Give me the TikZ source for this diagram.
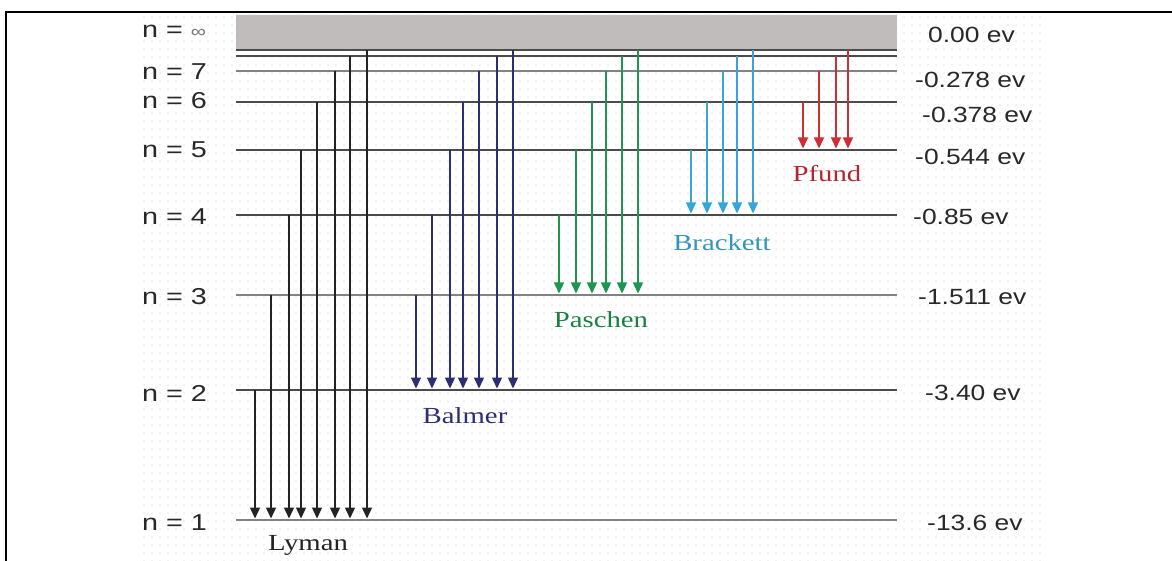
\documentclass[tikz,border=0pt]{standalone}
\usepackage{fontspec}
\usepackage{graphicx}
\setmainfont{Liberation Serif}
\setsansfont{Liberation Sans}
\usetikzlibrary{arrows.meta,patterns.meta}
\definecolor{lvl}{RGB}{75,75,75}
\definecolor{lvllight}{RGB}{130,130,130}
\definecolor{bandc}{RGB}{192,188,188}
\definecolor{lyc}{RGB}{35,35,35}
\definecolor{bac}{RGB}{45,45,115}
\definecolor{pac}{RGB}{30,150,80}
\definecolor{brc}{RGB}{55,165,215}
\definecolor{pfc}{RGB}{210,45,55}
\definecolor{txt}{RGB}{40,40,40}
\tikzset{
  level/.style={draw=lvl,line width=1.5pt},
  levellight/.style={draw=lvllight,line width=1.5pt},
  trans/.style={line width=1.3pt,-{Triangle[width=10pt,length=11pt]},shorten >=1.5pt},
  lyman/.style={trans,draw=lyc,fill=lyc},
  balmer/.style={trans,draw=bac,fill=bac},
  paschen/.style={trans,draw=pac,fill=pac},
  brackett/.style={trans,draw=brc,fill=brc},
  pfund/.style={trans,draw=pfc,fill=pfc},
  nlab/.style={anchor=west,inner sep=0pt,text=txt,font=\fontsize{23}{25}\selectfont\sffamily},
  elab/.style={anchor=west,inner sep=0pt,text=txt,font=\fontsize{22}{24}\selectfont\sffamily},
  series/.style={anchor=base,inner sep=0pt,font=\fontsize{23}{25}\selectfont\rmfamily},
}
\begin{document}
\begin{tikzpicture}[x=1pt,y=-1pt]
\useasboundingbox (0,0) rectangle (1172,561);
% background
\fill[white] (0,0) rectangle (1172,561);
\fill[pattern={Dots[distance=8pt,radius=0.6pt]},pattern color=black!20] (142,13) rectangle (1047,561);
% frame
\draw[line width=1.6pt] (6,561) -- (6,12) -- (1172,12);
% continuum band
\fill[bandc] (236,15) rectangle (897,50);
\fill[pattern={Dots[distance=3pt,radius=0.5pt]},pattern color=black!25] (236,15) rectangle (897,50);
% level coordinates
\coordinate (Linf) at (0,50);
\coordinate (L8) at (0,56);
\coordinate (L7) at (0,71);
\coordinate (L6) at (0,102);
\coordinate (L5) at (0,150);
\coordinate (L4) at (0,215);
\coordinate (L3) at (0,295);
\coordinate (L2) at (0,390);
\coordinate (L1) at (0,520);
% level lines
\foreach \l in {Linf,L8,L6,L5,L4,L2}
  \draw[level] (236,0 |- \l) -- (897,0 |- \l);
\foreach \l in {L7,L3,L1}
  \draw[levellight] (236,0 |- \l) -- (897,0 |- \l);
% transitions
\foreach \x/\f in {255/L2,271/L3,289/L4,301/L5,317/L6,335/L7,350/L8,367/Linf}
  \draw[lyman] (\x,0 |- \f) -- (\x,0 |- L1);
\foreach \x/\f in {416/L3,432/L4,450/L5,463/L6,479/L7,497/L8,513/Linf}
  \draw[balmer] (\x,0 |- \f) -- (\x,0 |- L2);
\foreach \x/\f in {559/L4,576/L5,592/L6,606/L7,622/L8,638/Linf}
  \draw[paschen] (\x,0 |- \f) -- (\x,0 |- L3);
\foreach \x/\f in {691/L5,707/L6,723/L7,737/L8,753/Linf}
  \draw[brackett] (\x,0 |- \f) -- (\x,0 |- L4);
\foreach \x/\f in {803/L6,819/L7,836/L8,848/Linf}
  \draw[pfund] (\x,0 |- \f) -- (\x,0 |- L5);
% series labels
\node[series,text=lyc] (lyman) at (308,550) {\scalebox{1.25}[1]{Lyman}};
\node[series,text=bac] (balmer) at (465,423) {\scalebox{1.25}[1]{Balmer}};
\node[series,text=pac!85!black] (paschen) at (601,327) {\scalebox{1.25}[1]{Paschen}};
\node[series,text=brc!90!black] (brackett) at (722,251) {\scalebox{1.25}[1]{Brackett}};
\node[series,text=pfc!85!black] (pfund) at (827,182) {\scalebox{1.25}[1]{Pfund}};
% n labels
\node[nlab] (ninf) at (142,31) {\scalebox{1.25}[1]{n = {\fontsize{17}{18}\selectfont\color{black!55}∞}}};
\node[nlab] (n7) at (142,72) {\scalebox{1.25}[1]{n = 7}};
\node[nlab] (n6) at (142,101) {\scalebox{1.25}[1]{n = 6}};
\node[nlab] (n5) at (142,150) {\scalebox{1.25}[1]{n = 5}};
\node[nlab] (n4) at (142,217) {\scalebox{1.25}[1]{n = 4}};
\node[nlab] (n3) at (142,297) {\scalebox{1.25}[1]{n = 3}};
\node[nlab] (n2) at (142,393) {\scalebox{1.25}[1]{n = 2}};
\node[nlab] (n1) at (142,523) {\scalebox{1.25}[1]{n = 1}};
% energy labels
\node[elab] (e8) at (928,35) {\scalebox{1.2}[1]{0.00 ev}};
\node[elab] (e7) at (915,80) {\scalebox{1.2}[1]{-0.278 ev}};
\node[elab] (e6) at (922,115) {\scalebox{1.2}[1]{-0.378 ev}};
\node[elab] (e5) at (915,157) {\scalebox{1.2}[1]{-0.544 ev}};
\node[elab] (e4) at (913,217) {\scalebox{1.2}[1]{-0.85 ev}};
\node[elab] (e3) at (918,297) {\scalebox{1.2}[1]{-1.511 ev}};
\node[elab] (e2) at (925,393) {\scalebox{1.2}[1]{-3.40 ev}};
\node[elab] (e1) at (927,523) {\scalebox{1.2}[1]{-13.6 ev}};
\end{tikzpicture}
\end{document}
